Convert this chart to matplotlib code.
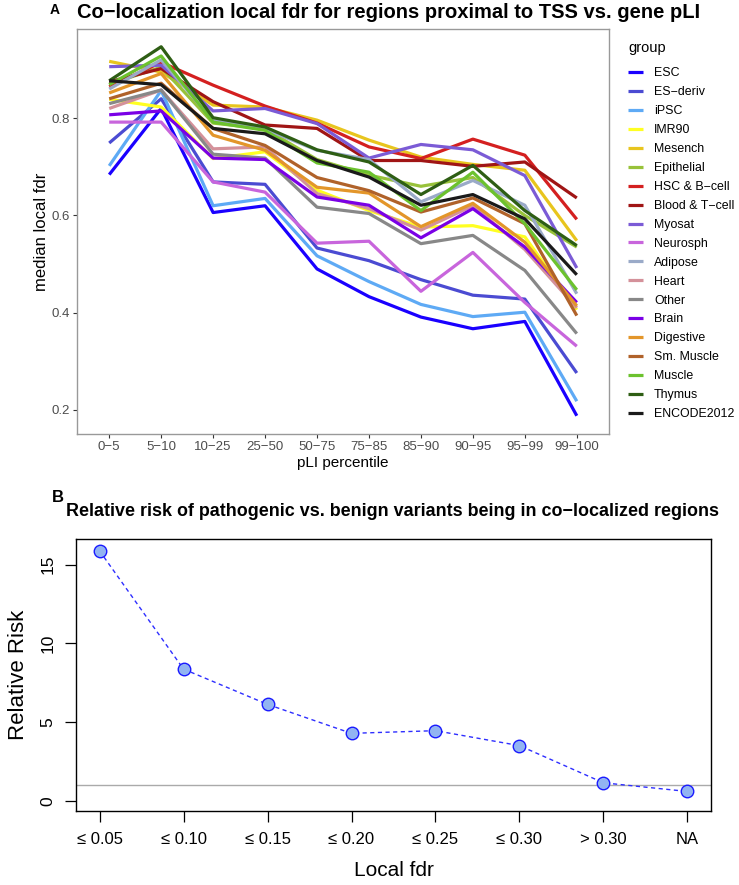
import matplotlib
matplotlib.use("Agg")
import matplotlib.pyplot as plt

plt.rcParams["font.family"] = ["Liberation Sans", "DejaVu Sans"]

# ---- panel A data: median local fdr per pLI percentile bin ----
pli_bins = ["0−5", "5−10", "10−25", "25−50", "50−75", "75−85", "85−90", "90−95", "95−99", "99−100"]

groups = ["ESC", "ES−deriv", "iPSC", "IMR90", "Mesench", "Epithelial", "HSC & B−cell",
          "Blood & T−cell", "Myosat", "Neurosph", "Adipose", "Heart", "Other", "Brain",
          "Digestive", "Sm. Muscle", "Muscle", "Thymus", "ENCODE2012"]

group_colors = ["#1A00FF", "#4B4BD2", "#5EAAF5", "#FFFF22", "#E8C51E", "#98C23A", "#D42020",
                "#A01515", "#7B5BD6", "#C865DC", "#9AAAC8", "#D4919A", "#888888", "#7A00E6",
                "#E3962A", "#B0622A", "#6CC22E", "#2E5E14", "#1A1A1A"]

esc = [0.684, 0.820, 0.606, 0.620, 0.490, 0.433, 0.391, 0.367, 0.382, 0.188]
es_deriv = [0.749, 0.840, 0.669, 0.664, 0.533, 0.507, 0.468, 0.436, 0.428, 0.276]
ipsc = [0.702, 0.857, 0.620, 0.635, 0.517, 0.464, 0.417, 0.392, 0.401, 0.218]
imr90 = [0.839, 0.823, 0.717, 0.731, 0.652, 0.610, 0.576, 0.579, 0.556, 0.406]
mesench = [0.917, 0.895, 0.827, 0.823, 0.796, 0.755, 0.720, 0.705, 0.693, 0.548]
epithelial = [0.870, 0.905, 0.790, 0.778, 0.715, 0.683, 0.660, 0.678, 0.600, 0.535]
hsc_bcell = [0.865, 0.915, 0.868, 0.825, 0.790, 0.741, 0.717, 0.757, 0.724, 0.592]
blood_tcell = [0.875, 0.902, 0.834, 0.786, 0.779, 0.713, 0.713, 0.701, 0.710, 0.636]
myosat = [0.906, 0.909, 0.815, 0.820, 0.789, 0.718, 0.746, 0.735, 0.682, 0.492]
neurosph = [0.792, 0.792, 0.669, 0.648, 0.543, 0.547, 0.444, 0.524, 0.421, 0.331]
adipose = [0.860, 0.920, 0.795, 0.778, 0.734, 0.715, 0.628, 0.672, 0.621, 0.439]
heart = [0.820, 0.858, 0.737, 0.741, 0.645, 0.614, 0.570, 0.620, 0.530, 0.410]
other = [0.830, 0.858, 0.726, 0.718, 0.617, 0.604, 0.542, 0.559, 0.487, 0.357]
brain = [0.807, 0.815, 0.718, 0.715, 0.638, 0.621, 0.554, 0.614, 0.535, 0.421]
digestive = [0.852, 0.892, 0.765, 0.734, 0.658, 0.646, 0.577, 0.625, 0.545, 0.414]
sm_muscle = [0.840, 0.872, 0.779, 0.744, 0.678, 0.651, 0.607, 0.636, 0.583, 0.394]
muscle = [0.869, 0.928, 0.792, 0.775, 0.708, 0.689, 0.610, 0.689, 0.583, 0.447]
thymus = [0.877, 0.947, 0.801, 0.782, 0.735, 0.710, 0.643, 0.703, 0.610, 0.538]
encode2012 = [0.877, 0.869, 0.779, 0.768, 0.713, 0.679, 0.621, 0.643, 0.593, 0.478]

series = [esc, es_deriv, ipsc, imr90, mesench, epithelial, hsc_bcell, blood_tcell, myosat,
          neurosph, adipose, heart, other, brain, digestive, sm_muscle, muscle, thymus, encode2012]

# ---- panel B data: relative risk per local fdr bin ----
fdr_bins = ["≤ 0.05", "≤ 0.10", "≤ 0.15", "≤ 0.20", "≤ 0.25", "≤ 0.30", "> 0.30", "NA"]
relative_risk = [15.87, 8.36, 6.12, 4.28, 4.45, 3.50, 1.14, 0.59]

W, H = 739, 885
fig = plt.figure(figsize=(W / 100, H / 100), dpi=100)


def box(left, top, right, bottom):
    return [left / W, 1 - bottom / H, (right - left) / W, (bottom - top) / H]


# ---------------- panel A ----------------
axA = fig.add_axes(box(77, 29, 609, 434))
xs = list(range(len(pli_bins)))
for name, vals, col in zip(groups, series, group_colors):
    axA.plot(xs, vals, color=col, lw=2.3, label=name, solid_capstyle="butt")

axA.set_xlim(-0.62, 9.62)
axA.set_ylim(0.1505, 0.9835)
axA.set_xticks(xs)
axA.set_xticklabels(pli_bins)
axA.set_yticks([0.2, 0.4, 0.6, 0.8])
axA.set_yticklabels(["0.2", "0.4", "0.6", "0.8"])
axA.tick_params(colors="#333333", labelcolor="#4D4D4D", labelsize=9.5, length=3, width=0.8, pad=2)
for sp in axA.spines.values():
    sp.set_color("#999999")
    sp.set_linewidth(1.0)
axA.set_xlabel("pLI percentile", fontsize=11, labelpad=2)
axA.set_ylabel("median local fdr", fontsize=12, labelpad=2)

leg = axA.legend(loc="upper left", bbox_to_anchor=(628 / W, 1 - 41 / H), bbox_transform=fig.transFigure,
                 frameon=False, title="group", alignment="left", fontsize=8.9, title_fontsize=10.5,
                 handlelength=1.25, handletextpad=0.85, labelspacing=0.56, borderpad=0, borderaxespad=0)
leg._legend_box.sep = 9

fig.text(77 / W, 1 - 12 / H, "Co−localization local fdr for regions proximal to TSS vs. gene pLI",
         fontsize=14.5, fontweight="bold", va="center", ha="left")
fig.text(50 / W, 1 - 10 / H, "A", fontsize=10, fontweight="bold", va="center", ha="left")

# ---------------- panel B ----------------
narrow = ["Liberation Sans Narrow", "Liberation Sans", "DejaVu Sans"]
axB = fig.add_axes(box(76, 539, 711, 811))
pos = list(range(1, len(fdr_bins) + 1))
axB.axhline(1, color="#AAAAAA", lw=1.0, zorder=1)
axB.plot(pos, relative_risk, color="#2E2EFF", lw=1.0, ls=(0, (3, 2.5)), zorder=2)
axB.plot(pos, relative_risk, ls="none", marker="o", ms=9, mfc="#92B4F2", mec="#1A1AFF", mew=1.0, zorder=3)
axB.set_xlim(0.72, 8.28)
axB.set_ylim(-0.65, 16.62)
axB.set_xticks(pos)
axB.set_xticklabels(fdr_bins, family=narrow, fontsize=12)
axB.set_yticks([0, 5, 10, 15])
axB.set_yticklabels(["0", "5", "10", "15"], family=narrow, fontsize=12.5, rotation=90, va="center")
axB.tick_params(length=8, width=0.9, pad=7)
for sp in axB.spines.values():
    sp.set_color("black")
    sp.set_linewidth(1.0)
axB.set_xlabel("Local fdr", family=narrow, fontsize=15, labelpad=10)
axB.set_ylabel("Relative Risk", fontsize=16, labelpad=8)

fig.text(393 / W, 1 - 512 / H, "Relative risk of pathogenic vs. benign variants being in co−localized regions",
         family=narrow, fontsize=12.9, fontweight="bold", va="center", ha="center")
fig.text(52 / W, 1 - 498 / H, "B", family=narrow, fontsize=12, fontweight="bold", va="center", ha="left")

fig.savefig("out.png", dpi=100)
